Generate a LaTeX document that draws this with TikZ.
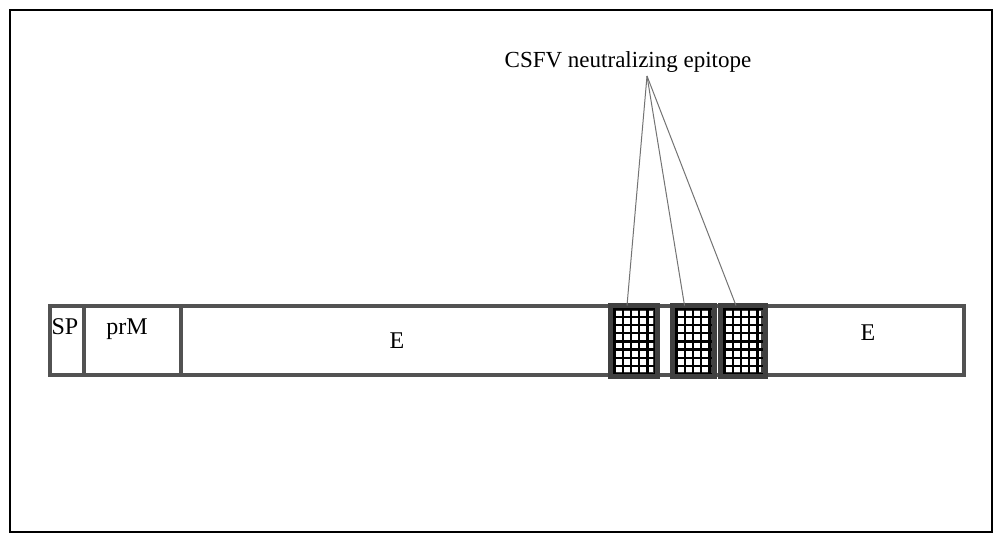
\documentclass[tikz,border=0pt]{standalone}
\usepackage{fontspec}
\setmainfont{Liberation Serif}
\begin{document}
\begin{tikzpicture}[x=1pt,y=-1pt,
  barcol/.style={draw=black!68},
  seg/.style={barcol, line width=4pt, rectangle, inner sep=0pt, minimum height=69pt, anchor=north west},
  epi/.style={draw=black!75, line width=5pt, rectangle, inner sep=0pt, minimum height=66pt, anchor=north west, fill=white},
  lbl/.style={font=\fontsize{24}{28}\selectfont, inner sep=0pt},
  link/.style={draw=black!55, line width=1pt}]
\useasboundingbox (0,0) rectangle (1000,542);
\node[draw=black, line width=2pt, minimum width=982pt, minimum height=522pt, inner sep=0pt, anchor=north west] (frame) at (9,9) {};
% bar segments
\node[seg, minimum width=34pt] (sp) at (48,304) {};
\node[seg, minimum width=97pt] (prm) at (82,304) {};
\node[seg, minimum width=431pt] (e1) at (179,304) {};
\node[seg, minimum width=17pt] (g1) at (654,304) {};
\node[seg, minimum width=9pt] (g2) at (711,304) {};
\node[seg, minimum width=200pt] (e2) at (762,304) {};
% epitope blocks
\node[epi, minimum width=42pt] (ep1) at (610.5,305.5) {};
\node[epi, minimum width=37pt] (ep2) at (672.5,305.5) {};
\node[epi, minimum width=40pt] (ep3) at (720.5,305.5) {};
\foreach \b in {ep1,ep2,ep3}{
  \begin{scope}
    \clip ([xshift=2.5pt,yshift=-2.5pt]\b.north west) rectangle ([xshift=-2.5pt,yshift=2.5pt]\b.south east);
    \foreach \i in {0,...,8}{
      \draw[black, line width=2.4pt] ([xshift=\i*8.2pt+4pt]\b.north west) -- ([xshift=\i*8.2pt+4pt]\b.south west);
    }
    \foreach \j in {0,...,9}{
      \draw[black, line width=2.4pt] ([yshift=-\j*8.2pt-3pt]\b.north west) -- ([yshift=-\j*8.2pt-3pt]\b.north east);
    }
  \end{scope}
  \draw[draw=black!75, line width=5pt] (\b.north west) rectangle (\b.south east);
}
% labels
\node[lbl] (tsp) at (65,327) {SP};
\node[lbl] (tprm) at (127,329) {prM};
\node[lbl] (te1) at (397,341) {E};
\node[lbl] (te2) at (868,333) {E};
\node[font=\fontsize{23}{27}\selectfont, inner sep=0pt] (title) at (628,62) {CSFV neutralizing epitope};
\coordinate (apex) at (647,76);
\draw[link] (apex) -- ([xshift=-7pt]ep1.north);
\draw[link] (apex) -- ([xshift=-9pt]ep2.north);
\draw[link] (apex) -- ([xshift=-7pt]ep3.north);
\end{tikzpicture}
\end{document}
